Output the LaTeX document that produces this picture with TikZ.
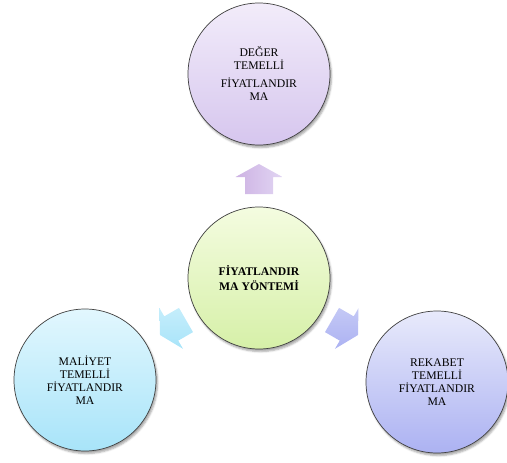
\documentclass[tikz,border=0pt]{standalone}
\usepackage{fontspec}
\setmainfont{Liberation Serif}
\usetikzlibrary{positioning, shadows.blur}
\definecolor{lilacTop}{RGB}{242,236,250}
\definecolor{lilacBot}{RGB}{214,198,238}
\definecolor{limeTop}{RGB}{244,252,224}
\definecolor{limeBot}{RGB}{214,240,168}
\definecolor{skyTop}{RGB}{226,247,254}
\definecolor{skyBot}{RGB}{168,228,249}
\definecolor{periTop}{RGB}{232,234,251}
\definecolor{periBot}{RGB}{172,178,242}
\tikzstyle{disc} = [circle, minimum size=142pt, inner sep=0pt, align=center, draw=black!75, line width=0.7pt, font=\fontsize{11.7}{13}\selectfont, blur shadow={shadow xshift=1.5pt, shadow yshift=-2.5pt, shadow opacity=35}]
\tikzstyle{outarrow} = [blur shadow={shadow xshift=1.5pt, shadow yshift=-2.5pt, shadow opacity=30}]
\tikzset{houseArrow/.pic={
    \path[pic actions] (15pt,0) -- (2pt,23.5pt) -- (2pt,14pt) -- (-15pt,14pt) -- (-15pt,-14pt) -- (2pt,-14pt) -- (2pt,-23.5pt) -- cycle;
}}

\begin{document}
\begin{tikzpicture}[node distance=204pt and 175pt, on grid]
    \useasboundingbox (0,0) rectangle (507pt,-463pt);
    \node[disc, top color=limeTop, bottom color=limeBot, font=\fontsize{11.7}{14.5}\selectfont\bfseries] (method) at (259pt,-278pt) {FİYATLANDIR\\MA YÖNTEMİ};
    \node[disc, top color=lilacTop, bottom color=lilacBot, above=of method] (value) {DEĞER\\TEMELLİ\\[5pt]FİYATLANDIR\\MA};
    \node[disc, top color=skyTop, bottom color=skyBot, below left=102pt and 174pt of method] (cost) {MALİYET\\TEMELLİ\\FİYATLANDIR\\MA};
    \node[disc, top color=periTop, bottom color=periBot, below right=104pt and 178pt of method] (rival) {REKABET\\TEMELLİ\\FİYATLANDIR\\MA};

    \coordinate[above=99pt of method] (toValue);
    \coordinate[below left=49.5pt and 86pt of method] (toCost);
    \coordinate[below right=49.5pt and 86pt of method] (toRival);
    \pic[outarrow, rotate=90, left color=lilacBot!90!violet, right color=lilacTop!40!lilacBot] at (toValue) {houseArrow};
    \pic[outarrow, rotate=210, top color=skyTop!50!skyBot, bottom color=skyBot] at (toCost) {houseArrow};
    \pic[outarrow, rotate=330, top color=periTop!40!periBot, bottom color=periBot] at (toRival) {houseArrow};
\end{tikzpicture}
\end{document}
